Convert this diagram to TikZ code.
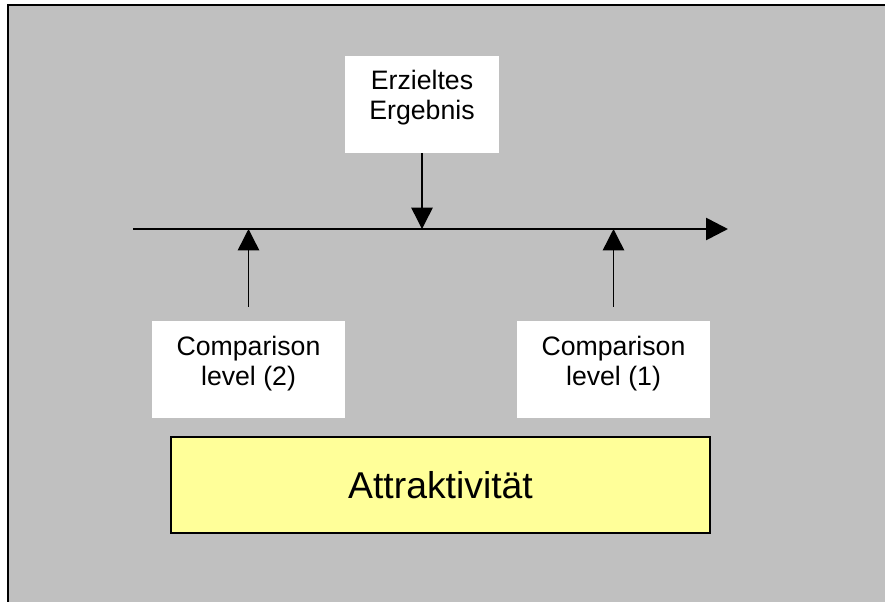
\documentclass[tikz,border=0pt]{standalone}
\usepackage{fontspec}
\setmainfont{Liberation Sans}
\usetikzlibrary{arrows.meta}
\definecolor{paneGray}{HTML}{C0C0C0}
\definecolor{paleYellow}{HTML}{FFFF99}
\tikzset{
    whitebox/.style={fill=white, minimum height=72.75pt, inner sep=0pt},
    boxtext/.style={align=center, inner sep=0pt, font=\fontsize{20}{22.5}\selectfont},
    levelArrow/.style={-{Triangle[length=16pt,width=16pt]}, line width=1.1pt},
}

\begin{document}
\begin{tikzpicture}[x=0.75pt,y=-0.75pt]
    \useasboundingbox (0,0) rectangle (885,601);
    \clip (0,0) rectangle (885,601);
    \draw[fill=paneGray, line width=1.7pt] (8.3,5) rectangle (900,620);
    % scale
    \coordinate (axStart) at (133,229);
    \coordinate (axEnd) at (728,229);
    \draw[-{Triangle[length=16.5pt,width=16.5pt]}, line width=2pt] (axStart) -- (axEnd);
    % boxes
    \node[whitebox, minimum width=115.5pt] (erz) at (422,104.5) {};
    \node[boxtext] (erzText) at ([yshift=4.9pt]erz.center) {Erzieltes\\Ergebnis};
    \node[whitebox, minimum width=144.75pt] (cl2) at (248.5,369.5) {};
    \node[boxtext] (cl2Text) at ([yshift=4.5pt]cl2.center) {Comparison\\level (2)};
    \node[whitebox, minimum width=144.75pt] (cl1) at (613.5,369.5) {};
    \node[boxtext] (cl1Text) at ([yshift=4.5pt]cl1.center) {Comparison\\level (1)};
    \node[draw, fill=paleYellow, line width=1.5pt, minimum width=404.25pt, minimum height=72pt,
          font=\fontsize{28}{33}\selectfont] (attr) at (440.5,485) {Attraktivität};
    % arrows onto the scale
    \draw[levelArrow] (erz.south) -- (erz.south |- axStart);
    \draw[levelArrow, shorten <=10.5pt] (cl2.north) -- (cl2.north |- axStart);
    \draw[levelArrow, shorten <=10.5pt] (cl1.north) -- (cl1.north |- axStart);
\end{tikzpicture}
\end{document}
